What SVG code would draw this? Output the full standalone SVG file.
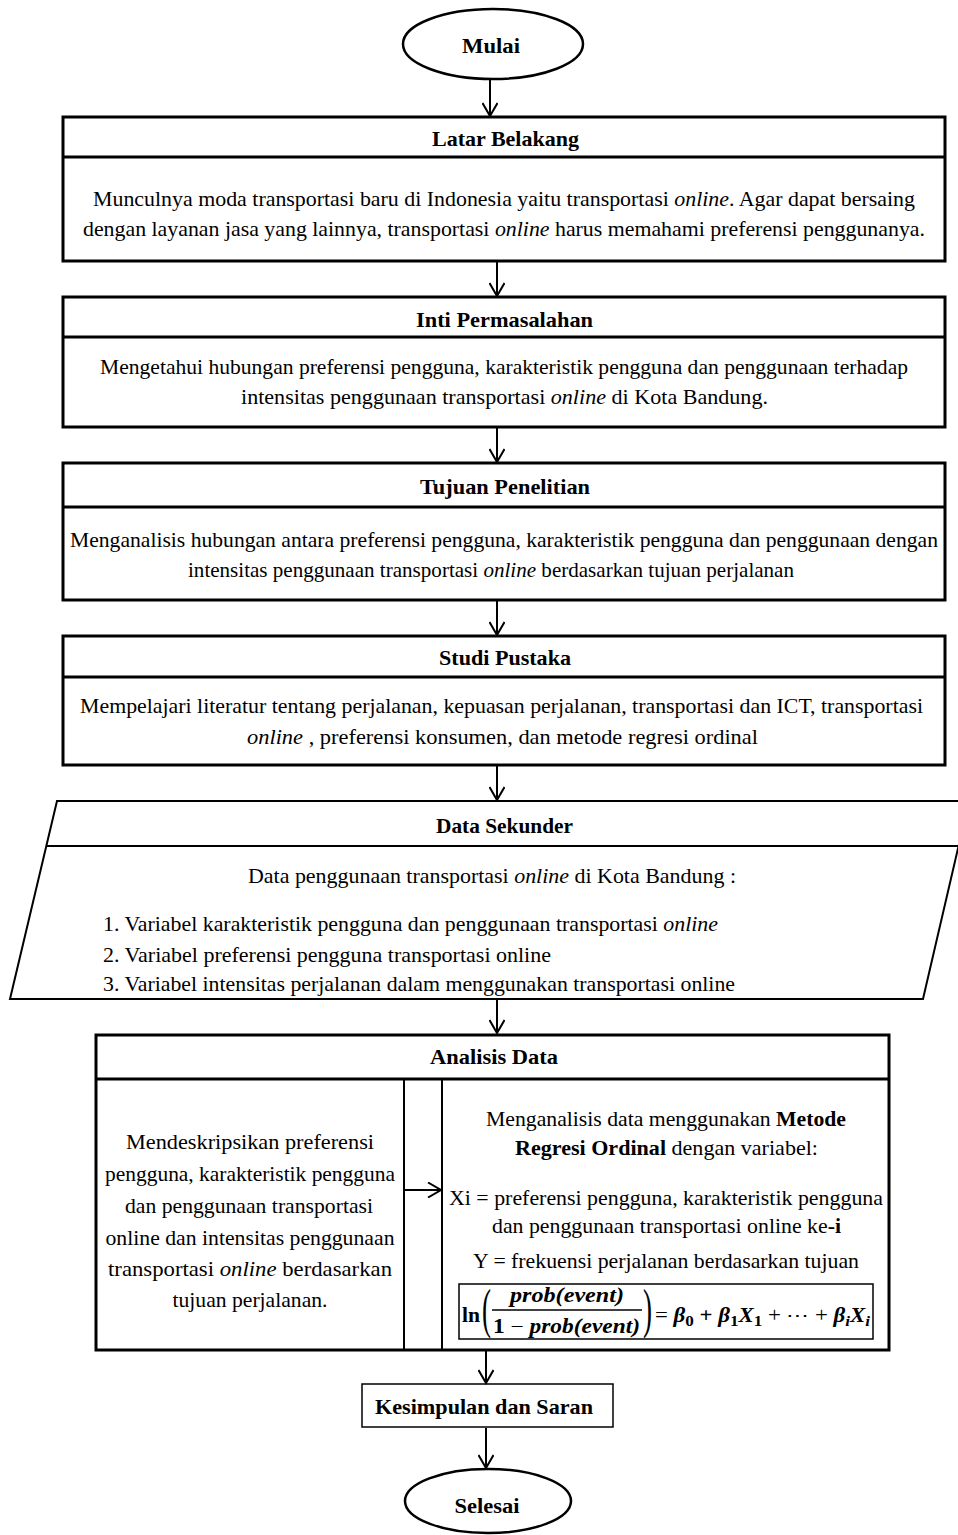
<svg xmlns="http://www.w3.org/2000/svg" width="958" height="1535" viewBox="0 0 958 1535">
<style>
text{font-family:"Liberation Serif","Times New Roman",serif;fill:#000}
.t{font-size:21px;font-weight:bold}
.b{font-size:22px}
.i{font-style:italic}
.bo{font-weight:bold}
.box{fill:#fff;stroke:#000;stroke-width:3}
.thin{fill:none;stroke:#000;stroke-width:1.5}
.ln{stroke:#000;stroke-width:3}
.ln2{stroke:#000;stroke-width:2}
.fm{font-size:20px;font-weight:bold;font-style:italic}
#connectors line{stroke:#000;stroke-width:2;marker-end:url(#ah)}
</style>
<defs>
<marker id="ah" markerUnits="userSpaceOnUse" viewBox="0 0 16 16" refX="14" refY="8" markerWidth="16" markerHeight="16" orient="auto">
<path d="M1,0.5 L14,8 L1,15.5" fill="none" stroke="#000" stroke-width="2"/>
</marker>
</defs>
<rect width="958" height="1535" fill="#fff"/>

<g id="mulai">
<ellipse cx="493" cy="44" rx="90" ry="35" fill="#fff" stroke="#000" stroke-width="2.5"/>
<text x="491" y="53" class="t" text-anchor="middle" textLength="58" lengthAdjust="spacingAndGlyphs">Mulai</text>
</g>

<g id="latar">
<rect x="63" y="117" width="882" height="144" class="box"/>
<line x1="63" y1="157" x2="945" y2="157" class="ln"/>
<text x="432" y="146" class="t" textLength="147" lengthAdjust="spacingAndGlyphs">Latar Belakang</text>
<text x="93" y="206" class="b" textLength="822" lengthAdjust="spacingAndGlyphs">Munculnya moda transportasi baru di Indonesia yaitu transportasi <tspan class="i">online</tspan>. Agar dapat bersaing</text>
<text x="83" y="236" class="b" textLength="842" lengthAdjust="spacingAndGlyphs">dengan layanan jasa yang lainnya, transportasi <tspan class="i">online</tspan>  harus memahami preferensi penggunanya.</text>
</g>

<g id="inti">
<rect x="63" y="297" width="882" height="130" class="box"/>
<line x1="63" y1="337" x2="945" y2="337" class="ln"/>
<text x="416" y="327" class="t" textLength="177" lengthAdjust="spacingAndGlyphs">Inti Permasalahan</text>
<text x="100" y="374" class="b" textLength="808" lengthAdjust="spacingAndGlyphs">Mengetahui hubungan preferensi pengguna, karakteristik pengguna dan penggunaan terhadap</text>
<text x="241" y="404" class="b" textLength="527" lengthAdjust="spacingAndGlyphs">intensitas penggunaan transportasi <tspan class="i">online</tspan>  di Kota Bandung.</text>
</g>

<g id="tujuan">
<rect x="63" y="463" width="882" height="137" class="box"/>
<line x1="63" y1="507" x2="945" y2="507" class="ln"/>
<text x="420" y="494" class="t" textLength="170" lengthAdjust="spacingAndGlyphs">Tujuan Penelitian</text>
<text x="70" y="547" class="b" textLength="868" lengthAdjust="spacingAndGlyphs">Menganalisis hubungan antara preferensi pengguna, karakteristik pengguna dan penggunaan dengan</text>
<text x="188" y="577" class="b" textLength="606" lengthAdjust="spacingAndGlyphs">intensitas penggunaan transportasi <tspan class="i">online</tspan>  berdasarkan tujuan perjalanan</text>
</g>

<g id="studi">
<rect x="63" y="636" width="882" height="129" class="box"/>
<line x1="63" y1="677" x2="945" y2="677" class="ln"/>
<text x="439" y="665" class="t" textLength="132" lengthAdjust="spacingAndGlyphs">Studi Pustaka</text>
<text x="80" y="713" class="b" textLength="843" lengthAdjust="spacingAndGlyphs">Mempelajari literatur tentang perjalanan, kepuasan perjalanan, transportasi dan ICT, transportasi</text>
<text x="247" y="744" class="b" textLength="511" lengthAdjust="spacingAndGlyphs"><tspan class="i">online</tspan> , preferensi konsumen, dan metode regresi ordinal</text>
</g>

<g id="data-sekunder">
<polygon points="57,801 969,801 923,999 10,999" fill="#fff" stroke="#000" stroke-width="2"/>
<line x1="46" y1="846" x2="959" y2="846" class="ln2"/>
<text x="436" y="833" class="t" textLength="137" lengthAdjust="spacingAndGlyphs">Data Sekunder</text>
<text x="248" y="883" class="b" textLength="488" lengthAdjust="spacingAndGlyphs">Data penggunaan transportasi <tspan class="i">online</tspan>  di Kota Bandung :</text>
<text x="103" y="931" class="b" textLength="615" lengthAdjust="spacingAndGlyphs">1. Variabel karakteristik pengguna dan penggunaan transportasi <tspan class="i">online</tspan></text>
<text x="103" y="962" class="b" textLength="448" lengthAdjust="spacingAndGlyphs">2. Variabel preferensi pengguna transportasi online</text>
<text x="103" y="991" class="b" textLength="632" lengthAdjust="spacingAndGlyphs">3. Variabel intensitas perjalanan dalam menggunakan transportasi online</text>
</g>

<g id="analisis">
<rect x="96" y="1035" width="793" height="315" class="box"/>
<line x1="96" y1="1079" x2="889" y2="1079" class="ln"/>
<line x1="404" y1="1079" x2="404" y2="1350" class="ln2"/>
<line x1="442" y1="1079" x2="442" y2="1350" class="ln2"/>
<text x="430" y="1064" class="t" textLength="128" lengthAdjust="spacingAndGlyphs">Analisis Data</text>
<g text-anchor="middle">
<text x="250" y="1149" class="b" textLength="248" lengthAdjust="spacingAndGlyphs">Mendeskripsikan preferensi</text>
<text x="250" y="1181" class="b" textLength="290" lengthAdjust="spacingAndGlyphs">pengguna, karakteristik pengguna</text>
<text x="249" y="1213" class="b" textLength="248" lengthAdjust="spacingAndGlyphs">dan penggunaan transportasi</text>
<text x="250" y="1245" class="b" textLength="289" lengthAdjust="spacingAndGlyphs">online dan intensitas penggunaan</text>
<text x="250" y="1276" class="b" textLength="284" lengthAdjust="spacingAndGlyphs">transportasi <tspan class="i">online</tspan>  berdasarkan</text>
<text x="250" y="1307" class="b" textLength="155" lengthAdjust="spacingAndGlyphs">tujuan perjalanan.</text>
</g>
<text x="486" y="1126" class="b" textLength="360" lengthAdjust="spacingAndGlyphs">Menganalisis data menggunakan <tspan class="bo">Metode</tspan></text>
<text x="515" y="1155" class="b" textLength="303" lengthAdjust="spacingAndGlyphs"><tspan class="bo">Regresi Ordinal</tspan> dengan variabel:</text>
<text x="449" y="1205" class="b" textLength="434" lengthAdjust="spacingAndGlyphs">Xi = preferensi pengguna, karakteristik pengguna</text>
<text x="492" y="1233" class="b" textLength="349" lengthAdjust="spacingAndGlyphs">dan penggunaan transportasi online ke<tspan class="bo">-i</tspan></text>
<text x="473" y="1268" class="b" textLength="386" lengthAdjust="spacingAndGlyphs">Y = frekuensi perjalanan berdasarkan tujuan</text>
<g id="formula">
<rect x="459" y="1284" width="414" height="55" class="thin"/>
<text x="462" y="1322" style="font-size:22px;font-weight:bold" textLength="18" lengthAdjust="spacingAndGlyphs">ln</text>
<text x="482" y="1327" style="font-size:54px" textLength="9" lengthAdjust="spacingAndGlyphs">(</text>
<text x="567" y="1302" class="fm" text-anchor="middle" textLength="114" lengthAdjust="spacingAndGlyphs">prob(event)</text>
<line x1="492" y1="1310" x2="642" y2="1310" stroke="#000" stroke-width="1.5"/>
<text x="493" y="1333" class="fm" textLength="147" lengthAdjust="spacingAndGlyphs"><tspan style="font-style:normal">1</tspan><tspan style="font-style:normal;font-weight:normal"> − </tspan>prob(event)</text>
<text x="643" y="1327" style="font-size:54px" textLength="9" lengthAdjust="spacingAndGlyphs">)</text>
<text x="655" y="1322" class="fm" textLength="215" lengthAdjust="spacingAndGlyphs"><tspan style="font-style:normal;font-weight:normal">= </tspan>β<tspan dy="4" style="font-size:15px;font-style:normal">0</tspan><tspan dy="-4" style="font-style:normal"> + </tspan>β<tspan dy="4" style="font-size:15px;font-style:normal">1</tspan><tspan dy="-4">X</tspan><tspan dy="4" style="font-size:15px;font-style:normal">1</tspan><tspan dy="-4" style="font-style:normal;font-weight:normal"> + ⋯ + </tspan>β<tspan dy="4" style="font-size:15px">i</tspan><tspan dy="-4">X</tspan><tspan dy="4" style="font-size:15px">i</tspan></text>
</g>
</g>

<g id="kesimpulan">
<rect x="362" y="1384" width="251" height="43" fill="#fff" stroke="#000" stroke-width="1.5"/>
<text x="375" y="1414" class="t" textLength="218" lengthAdjust="spacingAndGlyphs">Kesimpulan dan Saran</text>
</g>

<g id="selesai">
<ellipse cx="488" cy="1501" rx="83" ry="32" fill="#fff" stroke="#000" stroke-width="2.5"/>
<text x="487" y="1513" class="t" text-anchor="middle" textLength="65" lengthAdjust="spacingAndGlyphs">Selesai</text>
</g>

<g id="connectors">
<line x1="490" y1="79" x2="490" y2="116"/>
<line x1="497" y1="262" x2="497" y2="296"/>
<line x1="497" y1="428" x2="497" y2="462"/>
<line x1="497" y1="601" x2="497" y2="635"/>
<line x1="497" y1="766" x2="497" y2="800"/>
<line x1="497" y1="1000" x2="497" y2="1033"/>
<line x1="405" y1="1190" x2="441" y2="1190"/>
<line x1="486" y1="1351" x2="486" y2="1383"/>
<line x1="486" y1="1428" x2="486" y2="1468"/>
</g>
</svg>
